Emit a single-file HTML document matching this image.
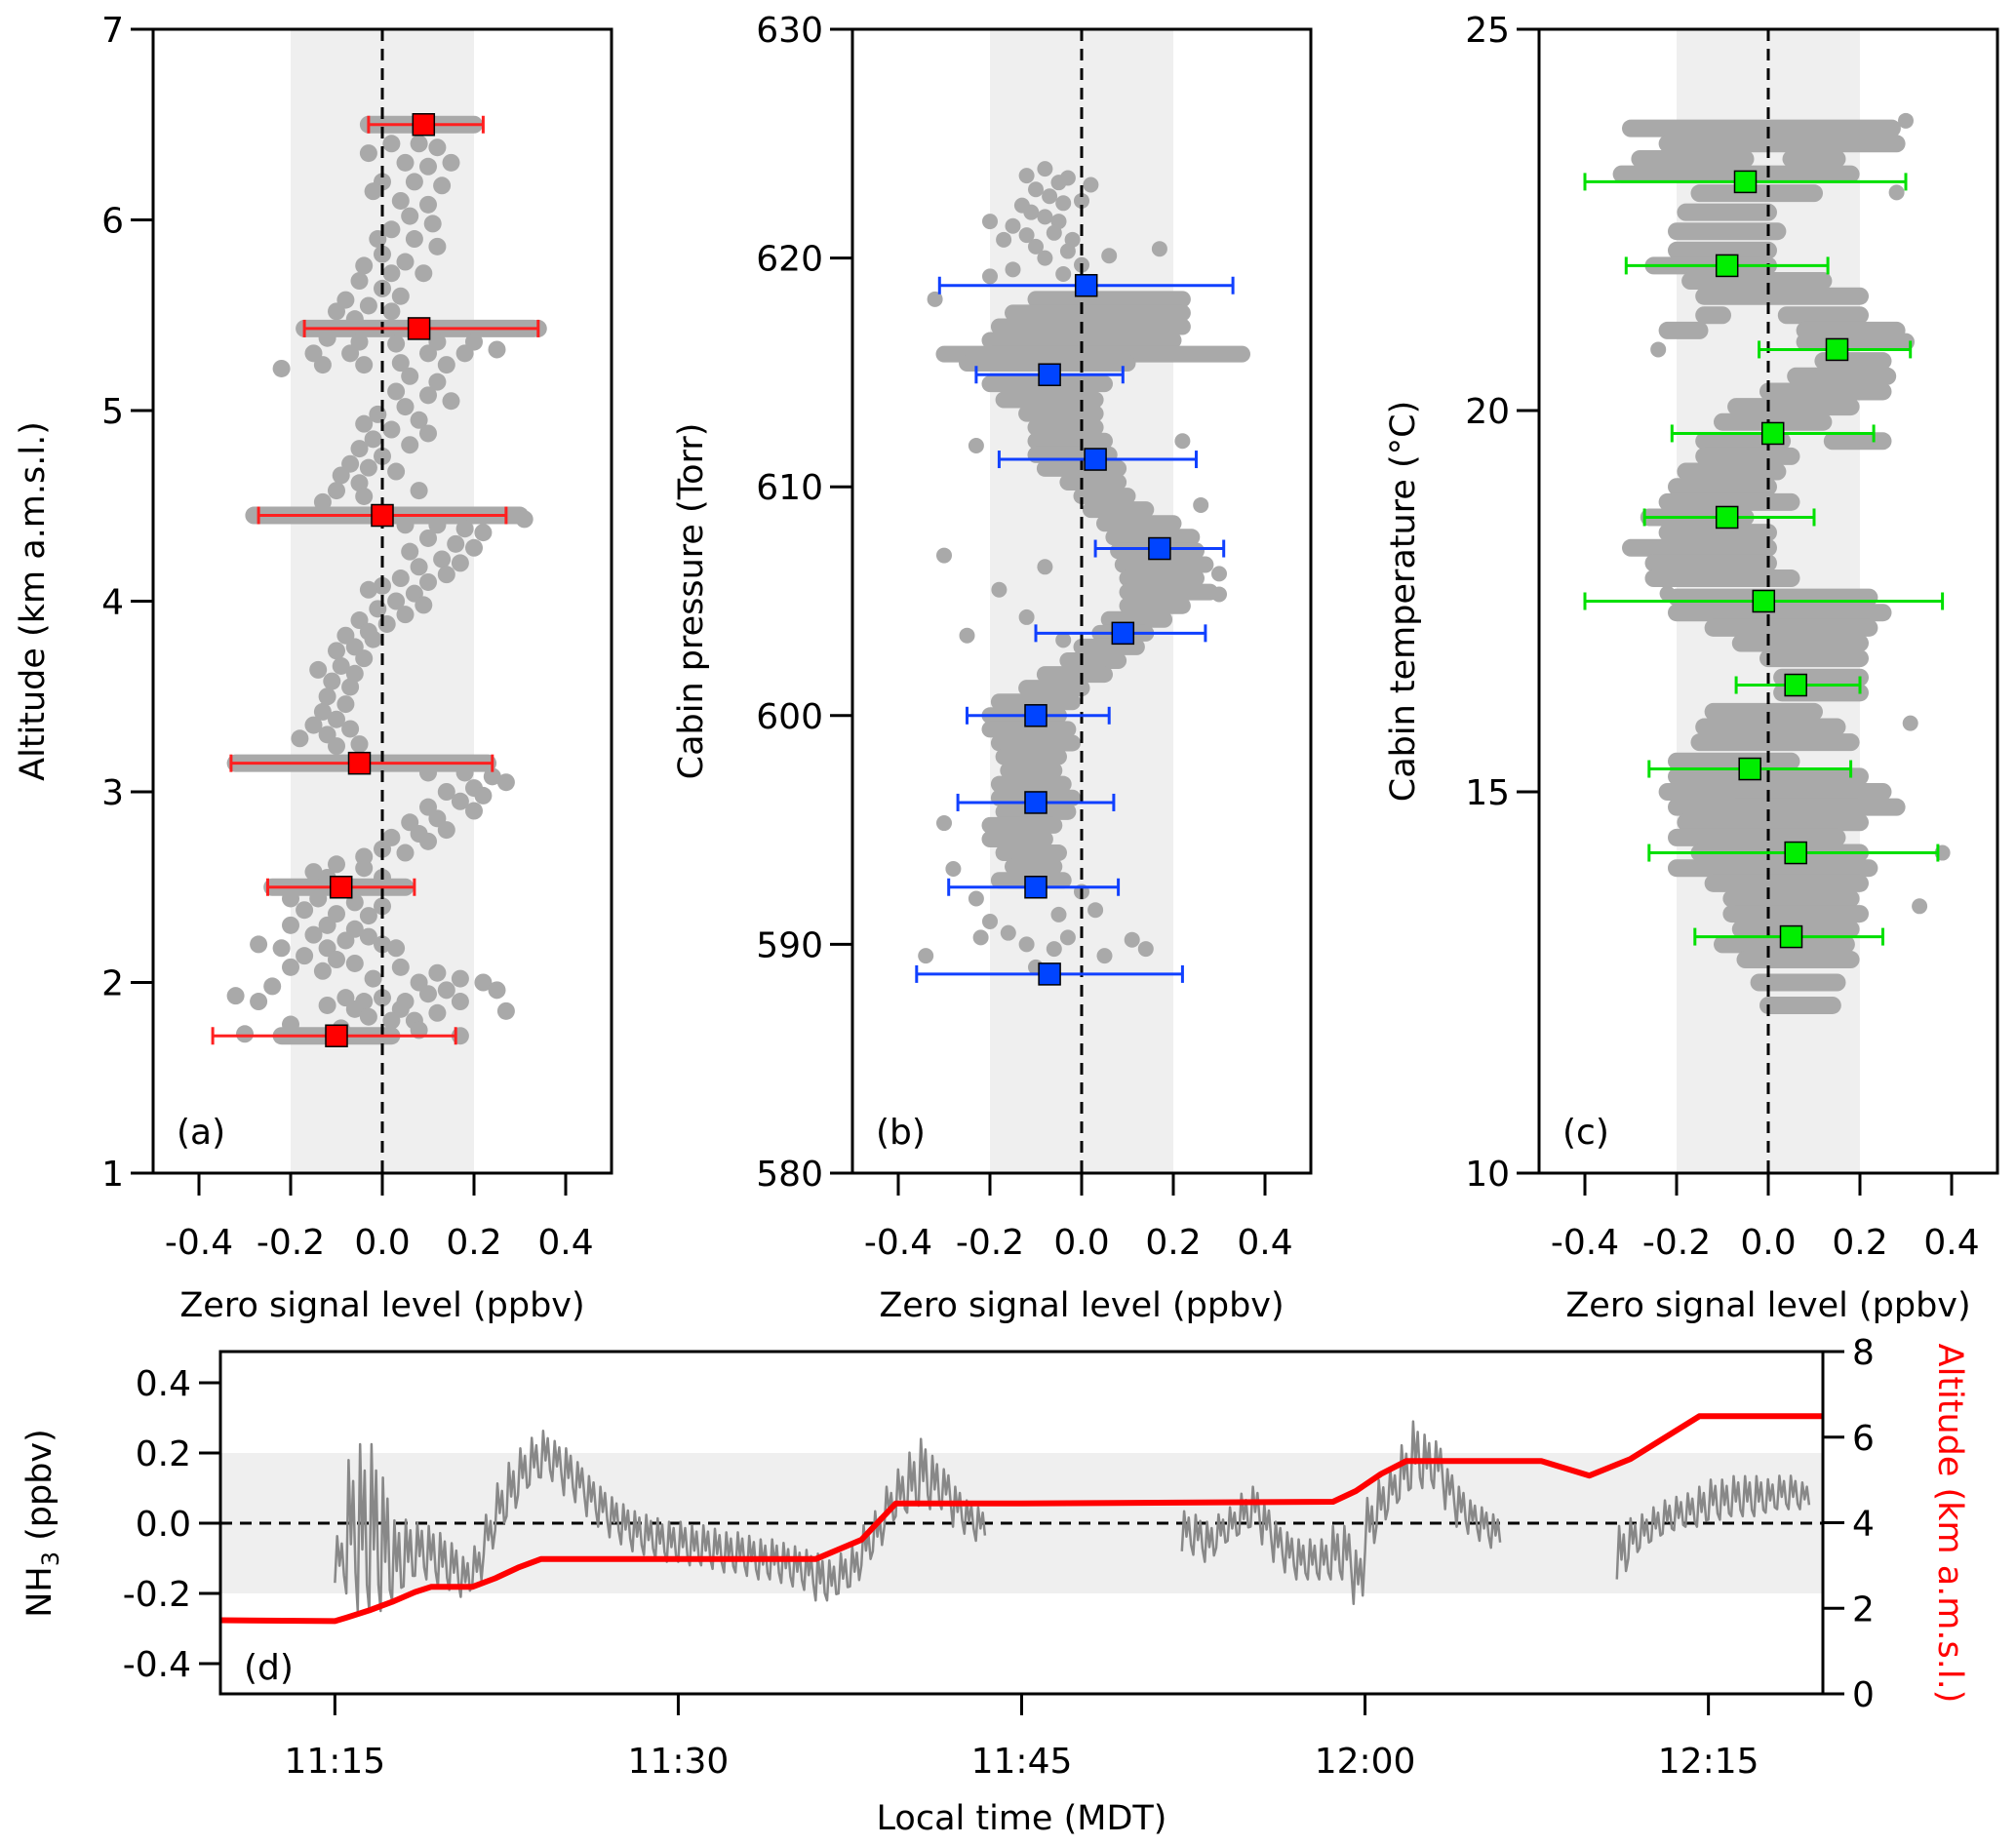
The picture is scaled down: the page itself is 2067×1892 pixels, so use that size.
<!DOCTYPE html>
<html><head><meta charset="utf-8"><style>
html,body{margin:0;padding:0;background:#fff}
svg{display:block;font-family:"DejaVu Sans","Liberation Sans",sans-serif}
</style></head><body>
<svg id="fig" width="2067" height="1892" viewBox="0 0 2067 1892" xmlns="http://www.w3.org/2000/svg"></svg>
<script>
// ---------- DATA ----------
const xTicks = [-0.4,-0.2,0.0,0.2,0.4];
const xTickLabels = ["-0.4","-0.2","0.0","0.2","0.4"];
const aYTicks = [1,2,3,4,5,6,7];
const bYTicks = [580,590,600,610,620,630];
const cYTicks = [10,15,20,25];
// panel a markers
const aAlt = [6.5,5.43,4.45,3.15,2.5,1.72];
const aVal = [0.09,0.08,0.0,-0.05,-0.09,-0.1];
const aLo = [-0.03,-0.17,-0.27,-0.33,-0.25,-0.37];
const aHi = [0.22,0.34,0.27,0.24,0.07,0.16];
// panel a streaks [alt, xmin, xmax]
const aStreaks = [[6.5,-0.03,0.2],[5.43,-0.17,0.33],[4.45,-0.28,0.3],[3.15,-0.32,0.23],[2.5,-0.24,0.05],[1.72,-0.22,0.02]];
const aDots = [[0.02,6.4],[0.08,6.4],[0.12,6.38],[-0.03,6.35],[0.05,6.3],[0.1,6.28],[0.15,6.3],[0.0,6.2],[0.07,6.2],[0.13,6.18],[-0.02,6.15],[0.04,6.1],[0.1,6.08],[0.06,6.02],[0.11,5.98],[0.02,5.95],[-0.01,5.9],[0.07,5.9],[0.12,5.86],[0.0,5.82],[0.05,5.78],[-0.04,5.76],[0.02,5.72],[0.09,5.72],[-0.05,5.68],[0.0,5.64],[0.04,5.6],[-0.08,5.58],[-0.03,5.55],[0.02,5.52],[-0.1,5.52],[-0.06,5.48],[0.34,5.43],
[-0.12,5.38],[-0.05,5.36],[0.03,5.35],[0.12,5.36],[0.2,5.36],[-0.15,5.3],[-0.07,5.3],[0.1,5.3],[0.18,5.3],[0.25,5.32],[-0.13,5.24],[-0.04,5.24],[0.04,5.25],[0.14,5.24],[-0.22,5.22],[0.06,5.18],[0.12,5.15],[0.03,5.1],[0.1,5.08],[0.15,5.05],[0.05,5.02],[-0.01,4.98],[0.08,4.95],[-0.04,4.93],[0.02,4.9],[0.1,4.88],[-0.02,4.85],[0.06,4.82],[-0.05,4.8],[0.0,4.76],[-0.07,4.72],[-0.03,4.7],[0.03,4.68],[-0.09,4.66],[-0.05,4.62],[-0.1,4.58],[-0.04,4.55],[-0.13,4.52],[0.08,4.58],[0.31,4.43],
[0.05,4.4],[0.12,4.4],[0.18,4.38],[0.22,4.36],[0.1,4.33],[0.16,4.3],[0.2,4.28],[0.06,4.26],[0.13,4.22],[0.17,4.2],[0.08,4.18],[0.14,4.14],[0.04,4.12],[0.1,4.1],[0.0,4.08],[0.07,4.04],[-0.03,4.06],[0.03,4.0],[0.09,3.98],[-0.01,3.96],[0.05,3.93],[-0.05,3.9],[0.01,3.88],[-0.03,3.84],[-0.08,3.82],[-0.02,3.8],[-0.06,3.76],[-0.1,3.74],[-0.04,3.7],[-0.09,3.66],[-0.14,3.64],[-0.06,3.62],[-0.11,3.58],[-0.07,3.55],[-0.12,3.5],[-0.08,3.46],[-0.13,3.42],[-0.1,3.38],[-0.15,3.35],[-0.07,3.33],[-0.12,3.3],[-0.18,3.28],[-0.1,3.24],[-0.05,3.25],
[0.1,3.1],[0.18,3.1],[0.24,3.08],[0.27,3.05],[0.2,3.02],[0.14,3.0],[0.22,2.98],[0.17,2.95],[0.1,2.92],[0.2,2.9],[0.12,2.86],[0.06,2.84],[0.14,2.8],[0.08,2.78],[0.02,2.76],[0.1,2.74],[0.0,2.7],[0.05,2.68],[-0.04,2.66],[-0.1,2.62],[-0.04,2.6],[-0.15,2.58],[0.0,2.55],[-0.12,2.55],
[-0.2,2.44],[-0.14,2.44],[-0.06,2.42],[0.0,2.4],[-0.17,2.38],[-0.1,2.36],[-0.03,2.35],[-0.2,2.3],[-0.12,2.3],[-0.06,2.28],[-0.15,2.25],[-0.08,2.22],[-0.03,2.24],[-0.27,2.2],[-0.22,2.18],[-0.12,2.18],[0.0,2.2],[0.03,2.18],[-0.17,2.14],[-0.1,2.12],[-0.06,2.1],[-0.2,2.08],[-0.13,2.06],[0.04,2.08],[0.12,2.05],[0.17,2.02],[0.22,2.0],[0.08,2.0],[-0.02,2.02],[-0.24,1.98],[0.14,1.96],[0.25,1.96],[0.1,1.94],[-0.08,1.92],[-0.04,1.9],[0.0,1.92],[0.05,1.9],[0.17,1.9],[0.27,1.85],[-0.27,1.9],[-0.32,1.93],[-0.06,1.86],[0.04,1.86],[0.12,1.84],[-0.12,1.88],[-0.03,1.82],[0.02,1.8],[0.07,1.8],[-0.2,1.78],[-0.09,1.76],[-0.3,1.73],[0.17,1.72],[0.08,1.75]];
// panel b markers
const bP = [618.8,614.9,611.2,607.3,603.6,600.0,596.2,592.5,588.7];
const bVal = [0.01,-0.07,0.03,0.17,0.09,-0.1,-0.1,-0.1,-0.07];
const bLo = [-0.31,-0.23,-0.18,0.03,-0.1,-0.25,-0.27,-0.29,-0.36];
const bHi = [0.33,0.09,0.25,0.31,0.27,0.06,0.07,0.08,0.22];
const bStreaks = [[618.2,-0.1,0.22],[617.6,-0.15,0.22],[617.0,-0.18,0.22],[616.4,-0.2,0.2],[615.8,-0.3,0.35],[615.4,-0.25,0.1],[614.5,-0.2,0.05],[613.8,-0.17,0.03],[613.2,-0.12,0.03],[612.6,-0.1,0.03],[612,-0.1,0.05],[611.4,-0.1,0.06],[610.8,-0.08,0.08],[610.2,-0.03,0.08],[609.6,0.0,0.1],[609,0.02,0.14],[608.4,0.05,0.2],[607.8,0.07,0.24],[607.2,0.08,0.25],[606.6,0.09,0.27],[606,0.1,0.25],[605.4,0.1,0.28],[604.8,0.1,0.22],[604.2,0.06,0.18],[603.6,0.04,0.14],[603,0.0,0.12],[602.4,-0.03,0.08],[601.8,-0.08,0.05],[601.2,-0.12,0.0],[600.6,-0.18,-0.02],[600,-0.2,-0.05],[599.4,-0.2,-0.03],[598.8,-0.18,-0.02],[598.2,-0.17,-0.05],[597.6,-0.16,-0.06],[597,-0.18,-0.04],[596.4,-0.18,-0.02],[595.8,-0.17,-0.03],[595.2,-0.2,-0.06],[594.6,-0.2,-0.08],[594,-0.17,-0.05],[593.4,-0.15,-0.06],[592.8,-0.18,-0.04]];
const bDots = [[-0.12,623.6],[-0.08,623.9],[-0.05,623.3],[-0.03,623.5],[-0.1,623],[0.02,623.2],[-0.07,622.7],[-0.13,622.3],[-0.04,622.4],[0.0,622.5],[-0.11,622],[-0.08,621.8],[-0.2,621.6],[-0.15,621.4],[-0.05,621.6],[-0.12,621],[-0.06,621.1],[-0.02,620.8],[-0.17,620.8],[-0.1,620.5],[-0.03,620.3],[0.06,620.1],[-0.08,620],[0.0,619.7],[-0.15,619.5],[-0.04,619.3],[0.17,620.4],[-0.2,619.2],[-0.32,618.2],
[-0.3,607],[-0.18,605.5],[-0.08,606.5],[-0.12,604.3],[-0.25,603.5],[-0.04,603.3],[0.26,609.2],[0.3,605.3],[0.3,606.2],[0.22,612],[-0.23,611.8],[-0.3,595.3],[-0.28,593.3],[-0.2,591],[-0.16,590.5],[-0.12,590],[-0.06,589.8],[-0.03,590.3],[0.05,589.5],[0.11,590.2],[0.14,589.8],[-0.34,589.5],[-0.22,590.3],[-0.1,589],[0.0,592.3],[-0.23,592],[-0.05,591.3],[0.03,591.5]];
// panel c markers
const cT = [23.0,21.9,20.8,19.7,18.6,17.5,16.4,15.3,14.2,13.1];
const cVal = [-0.05,-0.09,0.15,0.01,-0.09,-0.01,0.06,-0.04,0.06,0.05];
const cLo = [-0.4,-0.31,-0.02,-0.21,-0.27,-0.4,-0.07,-0.26,-0.26,-0.16];
const cHi = [0.3,0.13,0.31,0.23,0.1,0.38,0.2,0.18,0.37,0.25];
const cStreaks = [[23.7,-0.3,0.27],[23.5,-0.22,0.28],[23.3,-0.28,-0.05],[23.3,0.05,0.15],[23.1,-0.32,0.18],[22.85,-0.15,0.1],[22.6,-0.18,0.0],[22.35,-0.2,0.02],[22.1,-0.2,0.0],[21.9,-0.25,0.0],[21.7,-0.17,0.12],[21.5,-0.14,0.2],[21.25,-0.14,-0.1],[21.25,0.04,0.2],[21.05,-0.22,-0.15],[21.05,0.08,0.28],[20.9,0.08,0.3],[20.65,0.12,0.25],[20.45,0.06,0.26],[20.25,0.0,0.25],[20.05,-0.07,0.18],[19.85,-0.1,0.12],[19.6,-0.14,0.03],[19.6,0.14,0.25],[19.4,-0.14,0.05],[19.2,-0.18,0.02],[19.0,-0.2,0.0],[18.8,-0.22,0.05],[18.6,-0.26,-0.05],[18.4,-0.22,0.0],[18.2,-0.3,0.0],[18.0,-0.25,0.0],[17.8,-0.25,0.05],[17.55,-0.2,0.22],[17.35,-0.2,0.25],[17.15,-0.12,0.22],[16.95,-0.06,0.2],[16.75,0.0,0.2],[16.5,0.03,0.2],[16.3,0.03,0.2],[16.05,-0.12,0.1],[15.85,-0.14,0.15],[15.65,-0.15,0.18],[15.4,-0.2,0.05],[15.2,-0.2,0.2],[15.0,-0.22,0.25],[14.8,-0.2,0.28],[14.6,-0.18,0.2],[14.4,-0.2,0.15],[14.2,-0.15,0.2],[14.0,-0.2,0.22],[13.8,-0.12,0.2],[13.6,-0.08,0.18],[13.4,-0.08,0.2],[13.2,-0.06,0.18],[13.0,-0.1,0.17],[12.8,-0.05,0.18],[12.5,-0.02,0.15],[12.2,0.0,0.14]];
const cDots = [[0.28,22.86],[0.33,13.5],[0.38,14.2],[-0.22,17.6],[0.31,15.9],[-0.24,20.8],[0.3,23.8]];
// panel d
const dXTicks = [5,20,35,50,65]; // minutes after 11:10
const dXTickLabels = ["11:15","11:30","11:45","12:00","12:15"];
const dYTicks = [-0.4,-0.2,0.0,0.2,0.4];
const dYTickLabels = ["-0.4","-0.2","0.0","0.2","0.4"];
const altTicks = [0,2,4,6,8];
const altTime = [0,5,5.5,6.5,7.5,8.5,9.2,11,12,13,14,26,28,29.5,35,48.6,49.6,50.7,51.8,57.7,59.8,61.6,64.6,70];
const altVal = [1.72,1.7,1.78,1.95,2.15,2.38,2.5,2.5,2.7,2.95,3.15,3.15,3.6,4.45,4.45,4.49,4.74,5.14,5.44,5.44,5.1,5.49,6.49,6.49];
const seg1Start = 5.0;
const seg1Mid = [-0.1,0.0,0.0,0.0,-0.05,-0.1,-0.08,-0.07,-0.08,-0.1,-0.12,-0.15,-0.12,-0.03,0.05,0.1,0.15,0.18,0.2,0.18,0.15,0.12,0.08,0.05,0.02,0.0,-0.02,-0.03,-0.04,-0.05,-0.05,-0.06,-0.06,-0.07,-0.08,-0.08,-0.09,-0.1,-0.1,-0.11,-0.12,-0.13,-0.15,-0.16,-0.14,-0.12,-0.06,-0.02,0.05,0.09,0.12,0.15,0.12,0.1,0.05,0.02,0.0];
const seg1Amp = [0.07,0.2,0.25,0.25,0.2,0.12,0.1,0.08,0.08,0.08,0.07,0.06,0.06,0.06,0.07,0.08,0.07,0.07,0.07,0.06,0.07,0.06,0.06,0.06,0.06,0.06,0.06,0.06,0.06,0.06,0.06,0.06,0.06,0.06,0.06,0.06,0.06,0.06,0.06,0.06,0.06,0.06,0.07,0.06,0.06,0.06,0.06,0.06,0.06,0.07,0.09,0.1,0.08,0.06,0.06,0.05,0.05];
const seg2Start = 42.0;
const seg2Mid = [-0.02,-0.03,-0.05,-0.02,0.0,0.03,0.05,0.0,-0.05,-0.08,-0.1,-0.1,-0.1,-0.08,-0.08,-0.15,0.0,0.06,0.1,0.15,0.2,0.18,0.17,0.1,0.05,0.02,0.0,-0.02];
const seg2Amp = [0.06,0.06,0.06,0.05,0.05,0.06,0.06,0.06,0.06,0.06,0.06,0.06,0.06,0.08,0.08,0.08,0.08,0.07,0.06,0.08,0.1,0.08,0.07,0.06,0.06,0.05,0.05,0.05];
const seg3Start = 61.0;
const seg3Mid = [-0.08,-0.04,-0.02,0.0,0.02,0.03,0.04,0.05,0.07,0.07,0.08,0.08,0.08,0.08,0.09,0.09,0.08];
const seg3Amp = [0.08,0.06,0.05,0.05,0.05,0.05,0.05,0.06,0.06,0.06,0.06,0.06,0.06,0.05,0.05,0.05,0.04];

// ---------- DRAW ----------
const NS = "http://www.w3.org/2000/svg";
const svg = document.getElementById('fig');
function mk(tag, attrs, parent){ const e=document.createElementNS(NS,tag); for(const k in attrs) e.setAttribute(k,attrs[k]); (parent||svg).appendChild(e); return e; }
function txt(s, attrs, parent){ const e=mk('text',attrs,parent); e.textContent=s; return e; }

const TOP=30, BOT=1203;
function panel(name, left, right, ymin, ymax, yTicks, dots, streaks, streakW, dotR, mVal, mY, mLo, mHi, color, fillc, ytitle, ytitleX, plabel){
  const g = mk('g',{});
  
  
  const X = v => left + (v+0.5)/1.0*(right-left);
  const Y = v => BOT - (v-ymin)/(ymax-ymin)*(BOT-TOP);
  const band = mk('rect',{x:X(-0.2),y:TOP,width:X(0.2)-X(-0.2),height:BOT-TOP,fill:'#efefef'},g);
  
  
  const sg = mk('g',{fill:'#a9a9a9',stroke:'#a9a9a9'},g);
  
  
  streaks.forEach(s=>{ const l=mk('line',{x1:X(s[1]),x2:X(s[2]),y1:Y(s[0]),y2:Y(s[0]),'stroke-width':streakW,'stroke-linecap':'round'},sg);
      });
  dots.forEach(d=>{ const c=mk('circle',{cx:X(d[0]),cy:Y(d[1]),r:dotR,stroke:'none'},sg);
      });
  const z = mk('line',{x1:X(0),x2:X(0),y1:TOP,y2:BOT,stroke:'#000','stroke-width':3,'stroke-dasharray':'12,8'},g);
  
  
  mVal.forEach((v,i)=>{
    const y=Y(mY[i]);
    const eg=mk('g',{stroke:color,'stroke-width':3},g);
    
    
    mk('line',{x1:X(mLo[i]),x2:X(mHi[i]),y1:y,y2:y},eg);
    mk('line',{x1:X(mLo[i]),x2:X(mLo[i]),y1:y-9,y2:y+9},eg);
    mk('line',{x1:X(mHi[i]),x2:X(mHi[i]),y1:y-9,y2:y+9},eg);
    const m=mk('rect',{x:X(v)-11,y:y-11,width:22,height:22,fill:fillc,stroke:'#000','stroke-width':1.5},g);
    
    
  });
  const fr=mk('rect',{x:left,y:TOP,width:right-left,height:BOT-TOP,fill:'none',stroke:'#000','stroke-width':3},g);
  
  
  yTicks.forEach(t=>{ const y=Y(t);
    const tk=mk('line',{x1:left-23,x2:left,y1:y,y2:y,stroke:'#000','stroke-width':3},g);
     
    const tl=txt(String(t),{x:left-30,y:y+13,'font-size':36,'text-anchor':'end'},g);
      });
  xTicks.forEach((t,i)=>{ const x=X(t);
    const tk=mk('line',{x1:x,x2:x,y1:BOT,y2:BOT+23,stroke:'#000','stroke-width':3},g);
     
    const tl=txt(xTickLabels[i],{x:x,y:1286,'font-size':36,'text-anchor':'middle'},g);
      });
  const xt=txt('Zero signal level (ppbv)',{x:(left+right)/2,y:1350,'font-size':35,'text-anchor':'middle'},g);
   
  const yt=txt(ytitle,{x:0,y:0,'font-size':35,'text-anchor':'middle',transform:`translate(${ytitleX},${(TOP+BOT)/2}) rotate(-90)`},g);
   
  const pl=txt(plabel,{x:left+24,y:1173,'font-size':36},g);
   
}
panel('panel-a-altitude',157,627,1,7,aYTicks,aDots,aStreaks,18,9,aVal,aAlt,aLo,aHi,'#ff2020','#ff0000','Altitude (km a.m.s.l.)',45,'(a)');
panel('panel-b-pressure',874,1344,580,630,bYTicks,bDots,bStreaks,17,8,bVal,bP,bLo,bHi,'#1040ff','#0044ff','Cabin pressure (Torr)',720,'(b)');
panel('panel-c-temperature',1578,2048,10,25,cYTicks,cDots,cStreaks,18,8,cVal,cT,cLo,cHi,'#00e000','#00ee00','Cabin temperature (°C)',1450,'(c)');

// panel d
(function(){
  const L=226,R=1869,T=1386,B=1737;
  const g=mk('g',{});
  
  
  const X=t=>L+t/70*(R-L);
  const Y=v=>1562 - v*360;
  const YA=a=>B-a/8*(B-T);
  const band=mk('rect',{x:L,y:Y(0.2),width:R-L,height:Y(-0.2)-Y(0.2),fill:'#efefef'},g);
  
  
  const z=mk('line',{x1:L,x2:R,y1:Y(0),y2:Y(0),stroke:'#000','stroke-width':3,'stroke-dasharray':'12,8'},g);
  
  
  const pattern=[-1,0.9,-0.3,0.6,-0.7];
  function seg(start, mid, amp){
    let pts=[];
    mid.forEach((c,i)=>{ const t=start+i*0.5;
      pattern.forEach((p,k)=>{ pts.push(X(t+k*0.1).toFixed(1)+','+Y(c+p*amp[i]).toFixed(1)); }); });
    const p=mk('polyline',{points:pts.join(' '),fill:'none',stroke:'#888','stroke-width':2.5,'stroke-linejoin':'round'},g);
    
    
  }
  seg(seg1Start,seg1Mid,seg1Amp); seg(seg2Start,seg2Mid,seg2Amp); seg(seg3Start,seg3Mid,seg3Amp);
  const ap=mk('polyline',{points:altTime.map((t,i)=>X(t).toFixed(1)+','+YA(altVal[i]).toFixed(1)).join(' '),fill:'none',stroke:'#ff0000','stroke-width':6,'stroke-linejoin':'round'},g);
  
  
  const fr=mk('rect',{x:L,y:T,width:R-L,height:B-T,fill:'none',stroke:'#000','stroke-width':3},g);
  
  
  dYTicks.forEach((v,i)=>{ const y=Y(v);
    const tk=mk('line',{x1:L-22,x2:L,y1:y,y2:y,stroke:'#000','stroke-width':3},g);
     
    const tl=txt(dYTickLabels[i],{x:L-30,y:y+13,'font-size':36,'text-anchor':'end'},g);
      });
  altTicks.forEach(a=>{ const y=YA(a);
    const tk=mk('line',{x1:R,x2:R+22,y1:y,y2:y,stroke:'#000','stroke-width':3},g);
     
    const tl=txt(String(a),{x:R+30,y:y+13,'font-size':36},g);
      });
  dXTicks.forEach((t,i)=>{ const x=X(t);
    const tk=mk('line',{x1:x,x2:x,y1:B,y2:B+22,stroke:'#000','stroke-width':3},g);
     
    const tl=txt(dXTickLabels[i],{x:x,y:1818,'font-size':36,'text-anchor':'middle'},g);
      });
  const xt=txt('Local time (MDT)',{x:(L+R)/2,y:1876,'font-size':35,'text-anchor':'middle'},g);
   
  const yt=mk('text',{x:0,y:0,'font-size':35,'text-anchor':'middle',transform:`translate(52,1562) rotate(-90)`},g);
  yt.innerHTML='NH<tspan font-size="24" dy="8">3</tspan><tspan dy="-8"> (ppbv)</tspan>';
   
  const rt=txt('Altitude  (km a.m.s.l.)',{x:0,y:0,'font-size':35,'text-anchor':'middle',fill:'#ff0000',transform:`translate(1988,1562) rotate(90)`},g);
   
  const pl=txt('(d)',{x:L+24,y:1722,'font-size':36},g);
   
})();
</script>
</body></html>
